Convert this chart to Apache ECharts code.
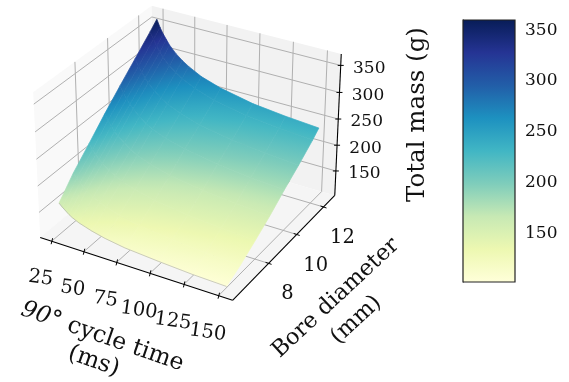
<!DOCTYPE html>
<html>
<head>
<meta charset="utf-8">
<style>
  html, body { margin: 0; padding: 0; background: #fff; }
  #chart { width: 569px; height: 382px; }
</style>
<script src="https://cdn.jsdelivr.net/npm/echarts@6/dist/echarts.min.js"></script>
</head>
<body>
<div id="chart"></div>
<script>
const cycleTimes = [25, 27.5, 30, 32.5, 35, 40, 45, 50, 60, 75, 100, 125, 150];
const boreDiameters = [6.1, 7, 8, 9, 10, 11, 12, 12.45];

// total mass (g), one row per bore
const massBore6 = [161, 155, 150, 145, 141, 135, 131, 127, 121, 115, 110, 106, 104];
const massBore7 = [195, 187, 180, 174, 169, 160, 154, 149, 141, 133, 126, 121, 118];
const massBore8 = [226, 216, 208, 201, 195, 186, 179, 173, 164, 155, 146, 141, 137];
const massBore9 = [258, 247, 238, 230, 223, 213, 204, 197, 187, 177, 167, 161, 157];
const massBore10 = [288, 276, 266, 258, 251, 239, 230, 223, 212, 202, 191, 184, 180];
const massBore11 = [317, 304, 294, 285, 277, 265, 255, 247, 236, 224, 213, 206, 201];
const massBore12 = [346, 333, 322, 312, 304, 291, 281, 273, 261, 248, 236, 229, 224];
const massBore125 = [360, 346, 335, 326, 317, 304, 294, 286, 273, 261, 248, 241, 236];
const massRows = [massBore6, massBore7, massBore8, massBore9, massBore10, massBore11, massBore12, massBore125];

const xTicks = [25, 50, 75, 100, 125, 150];
const yTicks = [8, 10, 12];
const zTicks = [150, 200, 250, 300, 350];
const colorbarTicks = [150, 200, 250, 300, 350];

const xLim = [16, 160];
const yLim = [5.58, 12.87];
const zLim = [101.8, 371];
const colorLim = [102, 360];

const YlGnBu = ["#ffffd9", "#edf8b1", "#c7e9b4", "#7fcdbb", "#41b6c4", "#1d91c0", "#225ea8", "#253494", "#081d58"];

const SERIF = '"DejaVu Serif"';
const GRID_COLOR = "#b0b0b0";

function hexRgb(hex) {
  return [1, 3, 5].map((i) => parseInt(hex.slice(i, i + 2), 16));
}

function massColor(v) {
  const f = Math.min(1, Math.max(0, (v - colorLim[0]) / (colorLim[1] - colorLim[0]))) * (YlGnBu.length - 1);
  const i = Math.min(YlGnBu.length - 2, Math.floor(f));
  const a = hexRgb(YlGnBu[i]);
  const b = hexRgb(YlGnBu[i + 1]);
  const c = a.map((p, k) => Math.round(p + (b[k] - p) * (f - i)));
  return `rgb(${c[0]},${c[1]},${c[2]})`;
}

// mplot3d default view: elev 30, azim -60, dist 10, box aspect 4:4:3
const BOX = [1.19, 1.19, 0.893];
const U = [0.866, 0.5, 0];
const V = [-0.25, 0.433, 0.866];
const W = [0.433, -0.75, 0.5];
const ORIGIN = [190.2, 146];
const SCALE = 185.2;

function project(x, y, z) {
  const f = [
    (x - xLim[0]) / (xLim[1] - xLim[0]),
    (y - yLim[0]) / (yLim[1] - yLim[0]),
    (z - zLim[0]) / (zLim[1] - zLim[0]),
  ];
  const p = f.map((v, i) => (v - 0.5) * BOX[i]);
  const dot = (a) => a[0] * p[0] + a[1] * p[1] + a[2] * p[2];
  const s = 10 / (10 - dot(W));
  return [ORIGIN[0] + SCALE * s * dot(U), ORIGIN[1] - SCALE * s * dot(V)];
}

function line(a, b, color, width) {
  return {
    type: "line",
    shape: { x1: a[0], y1: a[1], x2: b[0], y2: b[1] },
    style: { stroke: color, lineWidth: width },
  };
}

function poly(points, fill) {
  return { type: "polygon", shape: { points }, style: { fill } };
}

function label(text, pos, size, rotation, lineHeight) {
  return {
    type: "text",
    x: pos[0],
    y: pos[1],
    rotation: rotation || 0,
    style: {
      text,
      fontFamily: SERIF,
      fontSize: size,
      lineHeight: lineHeight || size * 1.2,
      fill: "#111",
      align: "center",
      verticalAlign: "middle",
    },
  };
}

function renderBox() {
  const [x0, x1] = xLim;
  const [y0, y1] = yLim;
  const [z0, z1] = zLim;
  const kids = [];

  kids.push(poly([project(x0, y0, z0), project(x0, y1, z0), project(x0, y1, z1), project(x0, y0, z1)], "#f9f9f9"));
  kids.push(poly([project(x0, y1, z0), project(x1, y1, z0), project(x1, y1, z1), project(x0, y1, z1)], "#f2f2f2"));
  kids.push(poly([project(x0, y0, z0), project(x1, y0, z0), project(x1, y1, z0), project(x0, y1, z0)], "#f5f5f5"));

  xTicks.forEach((t) => {
    kids.push(line(project(t, y0, z0), project(t, y1, z0), GRID_COLOR, 1));
    kids.push(line(project(t, y1, z0), project(t, y1, z1), GRID_COLOR, 1));
  });
  yTicks.forEach((d) => {
    kids.push(line(project(x1, d, z0), project(x0, d, z0), GRID_COLOR, 1));
    kids.push(line(project(x0, d, z0), project(x0, d, z1), GRID_COLOR, 1));
  });
  zTicks.forEach((m) => {
    kids.push(line(project(x0, y0, m), project(x0, y1, m), GRID_COLOR, 1));
    kids.push(line(project(x0, y1, m), project(x1, y1, m), GRID_COLOR, 1));
  });

  kids.push(line(project(x0, y0, z0), project(x1, y0, z0), "#000", 1.1));
  kids.push(line(project(x1, y0, z0), project(x1, y1, z0), "#000", 1.1));
  kids.push(line(project(x1, y1, z0), project(x1, y1, z1), "#000", 1.1));

  xTicks.forEach((t) => {
    const p = project(t, y0, z0);
    kids.push(line([p[0] + 1, p[1] - 3], [p[0] - 0.5, p[1] + 3], "#000", 1));
    kids.push(label(String(t), [p[0] - 11, p[1] + 37], 19.5, -0.14));
  });
  yTicks.forEach((d) => {
    const p = project(x1, d, z0);
    kids.push(line([p[0] - 3, p[1] - 1], [p[0] + 3, p[1] + 1], "#000", 1));
    kids.push(label(String(d), [p[0] + 19, p[1] + 31], 19.5));
  });
  zTicks.forEach((m) => {
    const p = project(x1, y1, m);
    kids.push(line([p[0] - 3, p[1]], [p[0] + 3, p[1]], "#000", 1));
    kids.push(label(String(m), [p[0] + 28.5, p[1] + 3], 17));
  });

  const xTitle = { fontFamily: SERIF, fontSize: 23.5, lineHeight: 26, fill: "#111" };
  kids.push({
    type: "text",
    x: 98,
    y: 349,
    rotation: -0.335,
    style: {
      text: "{i|90°}{n| cycle time}\n{n|(ms)}",
      fontFamily: SERIF,
      fontSize: 23.5,
      fill: "#111",
      align: "center",
      verticalAlign: "middle",
      rich: { i: { ...xTitle, fontStyle: "italic" }, n: xTitle },
    },
  });
  kids.push(label("Bore diameter\n(mm)", [346, 309], 22.5, 0.75, 30));
  kids.push(label("Total mass (g)", [418, 114.5], 24.5, Math.PI / 2));

  return { type: "group", children: kids };
}

function renderCell(params, api) {
  const i = api.value(0);
  const j = api.value(1);
  const corners = [[i, j], [i + 1, j], [i + 1, j + 1], [i, j + 1]];
  const pts = corners.map(([a, b]) => project(cycleTimes[a], boreDiameters[b], massRows[b][a]));
  const vals = corners.map(([a, b]) => massRows[b][a]);

  // colour runs along the direction mass changes fastest on screen
  const cx = pts.reduce((s, p) => s + p[0], 0) / 4;
  const cy = pts.reduce((s, p) => s + p[1], 0) / 4;
  const cv = vals.reduce((s, v) => s + v, 0) / 4;
  let sxx = 0, sxy = 0, syy = 0, sxv = 0, syv = 0;
  pts.forEach((p, k) => {
    const dx = p[0] - cx;
    const dy = p[1] - cy;
    const dv = vals[k] - cv;
    sxx += dx * dx; sxy += dx * dy; syy += dy * dy; sxv += dx * dv; syv += dy * dv;
  });
  const det = sxx * syy - sxy * sxy;
  const gx = (sxv * syy - syv * sxy) / det;
  const gy = (syv * sxx - sxv * sxy) / det;
  const g2 = gx * gx + gy * gy;
  const lo = Math.min(...vals);
  const hi = Math.max(...vals);
  const stops = [0, 0.25, 0.5, 0.75, 1].map((o) => ({ offset: o, color: massColor(lo + (hi - lo) * o) }));
  const fill = {
    type: "linear",
    global: true,
    x: cx + (gx * (lo - cv)) / g2,
    y: cy + (gy * (lo - cv)) / g2,
    x2: cx + (gx * (hi - cv)) / g2,
    y2: cy + (gy * (hi - cv)) / g2,
    colorStops: stops,
  };
  return {
    type: "polygon",
    shape: { points: pts },
    style: { fill, stroke: fill, lineWidth: 0.7 },
  };
}

function renderEdge() {
  const bottom = cycleTimes.map((t, a) => project(t, boreDiameters[0], massRows[0][a]));
  return {
    type: "polyline",
    shape: { points: bottom },
    style: { fill: "none", stroke: "rgba(170,170,170,0.6)", lineWidth: 1 },
  };
}

function renderColorbar(params, api) {
  const top = api.coord([0, colorLim[1]]);
  const bottom = api.coord([1, colorLim[0]]);
  return {
    type: "rect",
    shape: { x: top[0], y: top[1], width: bottom[0] - top[0], height: bottom[1] - top[1] },
    style: {
      fill: {
        type: "linear",
        x: 0, y: 1, x2: 0, y2: 0,
        colorStops: YlGnBu.map((color, k) => ({ offset: k / (YlGnBu.length - 1), color })),
      },
    },
  };
}

const cells = [];
boreDiameters.slice(0, -1).forEach((d, j) => {
  cycleTimes.slice(0, -1).forEach((t, i) => cells.push([i, j]));
});

const chart = echarts.init(document.getElementById("chart"), null, { renderer: "canvas" });
chart.setOption({
  animation: false,
  backgroundColor: "#fff",
  grid: { left: 463, width: 52, top: 20, height: 262, show: true, borderColor: "#222", borderWidth: 1.2, z: 5 },
  xAxis: { type: "value", min: 0, max: 1, show: false },
  yAxis: {
    type: "value",
    position: "right",
    min: colorLim[0],
    max: colorLim[1],
    splitLine: { show: false },
    axisLine: { show: true, lineStyle: { color: "#222" } },
    axisTick: { show: true, length: 5, lineStyle: { color: "#222" }, customValues: colorbarTicks },
    axisLabel: { margin: 10, fontFamily: SERIF, fontSize: 17, color: "#111", customValues: colorbarTicks },
  },
  series: [
    { type: "custom", coordinateSystem: "none", silent: true, z: 1, data: [[0]], renderItem: renderBox },
    { type: "custom", coordinateSystem: "none", silent: true, z: 2, data: cells, renderItem: renderCell },
    { type: "custom", coordinateSystem: "none", silent: true, z: 3, data: [[0]], renderItem: renderEdge },
    { type: "custom", xAxisIndex: 0, yAxisIndex: 0, silent: true, z: 2, data: [[0, colorLim[1]]], renderItem: renderColorbar },
  ],
});
</script>
</body>
</html>
